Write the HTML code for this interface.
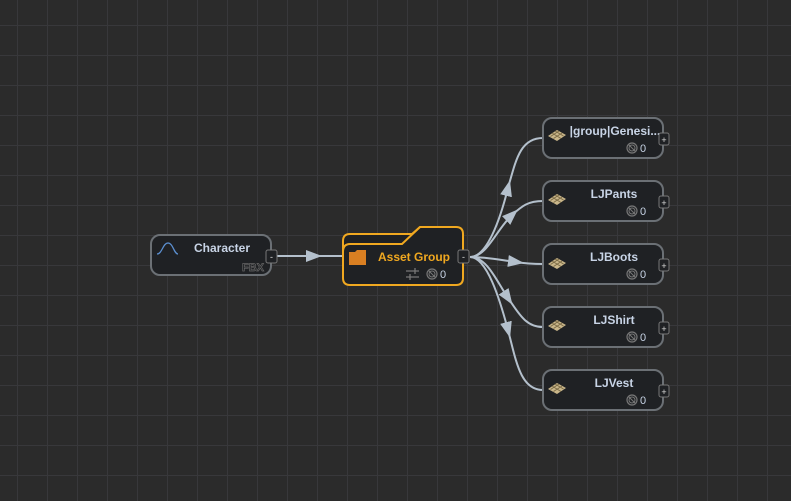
<!DOCTYPE html>
<html><head><meta charset="utf-8"><style>
html,body{margin:0;padding:0;background:#2b2b2b;}
body{width:791px;height:501px;overflow:hidden;position:relative;
background-color:#2b2b2b;
background-image:linear-gradient(to right,#38383b 1px,transparent 1px),linear-gradient(to bottom,#38383b 1px,transparent 1px);
background-size:30px 30px;background-position:17px 25px;font-family:"Liberation Sans",sans-serif;}
svg{position:absolute;left:0;top:0;}
</style></head><body>
<svg width="791" height="501" viewBox="0 0 791 501" font-family="Liberation Sans, sans-serif">
<defs>
<marker id="a" viewBox="0 0 16 12" refX="8" refY="6" markerWidth="16" markerHeight="12" orient="auto" markerUnits="userSpaceOnUse">
<path d="M0,0 L16,6 L0,12 Z" fill="#b4c0cc"/></marker>
<g id="tex"><path d="M0,6 L9,0 L18,5 L9,11 Z" fill="#c9b68a"/><path d="M2.5,6.5 L11,1 M5.5,8.5 L14,3 M4,3 L13,8.5 M7,1 L15.5,6" stroke="#7a6a45" stroke-width="0.9"/></g>
<g id="nul"><circle cx="0" cy="0" r="5" fill="none" stroke="#777" stroke-width="1.2"/><circle cx="0" cy="0" r="3" fill="none" stroke="#777" stroke-width="1"/><path d="M-3,-3 L3,3" stroke="#777" stroke-width="1"/></g>
</defs>
<g fill="none" stroke="#b4c0cc" stroke-width="2">
<path d="M277,256 L314,256" marker-end="url(#a)"/><path d="M314,256 L343,256"/>
<path d="M470,257 C487,257 500,220 508,188" marker-end="url(#a)"/><path d="M508,188 C516,160 520,138 543,138"/>
<path d="M470,257 C487,257 496,230 512,215" marker-end="url(#a)"/><path d="M512,215 C522,206 528,201 543,201"/>
<path d="M470,257 C487,257 500,260 516,262" marker-end="url(#a)"/><path d="M516,262 C528,264 535,264 543,264"/>
<path d="M470,257 C487,257 496,280 508,298" marker-end="url(#a)"/><path d="M508,298 C518,312 525,327 543,327"/>
<path d="M470,257 C487,257 500,300 508,330" marker-end="url(#a)"/><path d="M508,330 C516,360 520,390 543,390"/>
</g>
<rect x="151" y="235" width="120" height="40" rx="9" fill="#1f2124" stroke="#6b7075" stroke-width="2"/>
<path d="M157,254 C162,254 163,243 168,243 C173,243 174,254 178,254" fill="none" stroke="#5b8fd0" stroke-width="1.3"/>
<text x="222" y="252" font-size="12" font-weight="bold" fill="#c8d4e6" text-anchor="middle">Character</text>
<text x="264" y="271" font-size="11" font-weight="bold" fill="none" stroke="#666" stroke-width="0.7" text-anchor="end">FBX</text>
<rect x="266" y="250" width="11" height="13" rx="2" fill="#1f2124" stroke="#777" stroke-width="1"/>
<text x="271.5" y="260" font-size="9" fill="#ddd" text-anchor="middle">-</text>
<path d="M343,241 Q343,234 350,234 L412,234 L420,227 L456,227 Q463,227 463,234 L463,278 Q463,285 456,285 L350,285 Q343,285 343,278 Z" fill="#1f2124" stroke="#f0a820" stroke-width="2"/>
<path d="M343,252 Q343,244 350,244 L402,244 L420,227" fill="none" stroke="#f0a820" stroke-width="2"/>
<path d="M349,252 L355,252 L357,250 L366,250 L366,265 L349,265 Z" fill="#d97f22"/>
<text x="414" y="261" font-size="12" font-weight="bold" fill="#f0a820" text-anchor="middle">Asset Group</text>
<path d="M406,271 L419,271 M406,277 L419,277" stroke="#777" stroke-width="1.3"/><path d="M415,268 L415,274 M410,274 L410,280" stroke="#777" stroke-width="1.3"/>
<use href="#nul" x="432" y="274"/>
<text x="440" y="278" font-size="11" fill="#c8d4e6">0</text>
<rect x="458" y="250" width="11" height="13" rx="2" fill="#1f2124" stroke="#777" stroke-width="1"/>
<text x="463.5" y="260" font-size="9" fill="#ddd" text-anchor="middle">-</text>
<g>
<rect x="543" y="118" width="120" height="40" rx="9" fill="#1f2124" stroke="#6b7075" stroke-width="2"/>
<use href="#tex" x="548" y="130"/>
<text x="615" y="135" font-size="12" font-weight="bold" fill="#c8d4e6" text-anchor="middle">|group|Genesi...</text>
<use href="#nul" x="632" y="148"/><text x="640" y="152" font-size="11" fill="#c8d4e6">0</text>
<rect x="659" y="133" width="10" height="12" rx="2" fill="#1f2124" stroke="#777"/><text x="664" y="143" font-size="9" fill="#ddd" text-anchor="middle">+</text>
</g>
<g>
<rect x="543" y="181" width="120" height="40" rx="9" fill="#1f2124" stroke="#6b7075" stroke-width="2"/>
<use href="#tex" x="548" y="194"/>
<text x="614" y="198" font-size="12" font-weight="bold" fill="#c8d4e6" text-anchor="middle">LJPants</text>
<use href="#nul" x="632" y="211"/><text x="640" y="215" font-size="11" fill="#c8d4e6">0</text>
<rect x="659" y="196" width="10" height="12" rx="2" fill="#1f2124" stroke="#777"/><text x="664" y="206" font-size="9" fill="#ddd" text-anchor="middle">+</text>
</g>
<g>
<rect x="543" y="244" width="120" height="40" rx="9" fill="#1f2124" stroke="#6b7075" stroke-width="2"/>
<use href="#tex" x="548" y="258"/>
<text x="614" y="261" font-size="12" font-weight="bold" fill="#c8d4e6" text-anchor="middle">LJBoots</text>
<use href="#nul" x="632" y="274"/><text x="640" y="278" font-size="11" fill="#c8d4e6">0</text>
<rect x="659" y="259" width="10" height="12" rx="2" fill="#1f2124" stroke="#777"/><text x="664" y="269" font-size="9" fill="#ddd" text-anchor="middle">+</text>
</g>
<g>
<rect x="543" y="307" width="120" height="40" rx="9" fill="#1f2124" stroke="#6b7075" stroke-width="2"/>
<use href="#tex" x="548" y="320"/>
<text x="614" y="324" font-size="12" font-weight="bold" fill="#c8d4e6" text-anchor="middle">LJShirt</text>
<use href="#nul" x="632" y="337"/><text x="640" y="341" font-size="11" fill="#c8d4e6">0</text>
<rect x="659" y="322" width="10" height="12" rx="2" fill="#1f2124" stroke="#777"/><text x="664" y="332" font-size="9" fill="#ddd" text-anchor="middle">+</text>
</g>
<g>
<rect x="543" y="370" width="120" height="40" rx="9" fill="#1f2124" stroke="#6b7075" stroke-width="2"/>
<use href="#tex" x="548" y="383"/>
<text x="614" y="387" font-size="12" font-weight="bold" fill="#c8d4e6" text-anchor="middle">LJVest</text>
<use href="#nul" x="632" y="400"/><text x="640" y="404" font-size="11" fill="#c8d4e6">0</text>
<rect x="659" y="385" width="10" height="12" rx="2" fill="#1f2124" stroke="#777"/><text x="664" y="395" font-size="9" fill="#ddd" text-anchor="middle">+</text>
</g>
</svg>
</body></html>
